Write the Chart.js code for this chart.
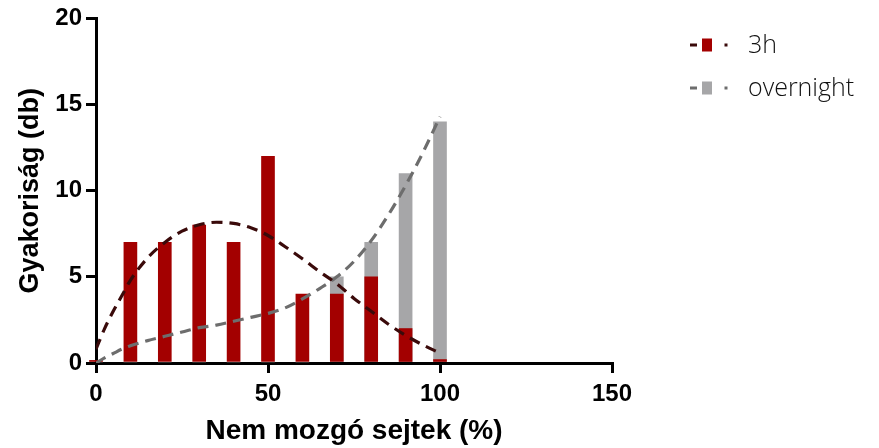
<!DOCTYPE html>
<html>
<head>
<meta charset="utf-8">
<script src="https://cdn.jsdelivr.net/npm/chart.js@4/dist/chart.umd.min.js"></script>
<style>
  html, body { margin: 0; padding: 0; background: #fff; }
  #wrap { width: 879px; height: 448px; }
</style>
</head>
<body>
<div id="wrap"><canvas id="c" width="879" height="448"></canvas></div>
<script>
// Histogram bins (% non-motile cells) and counts per bin
const binCenters = [0, 10, 20, 30, 40, 50, 60, 70, 80, 90, 100];
const counts3h = [0.15, 7, 7, 8, 7, 12, 4, 4, 5, 2, 0.2];
const countsOvernight = [0, 0, 0, 0, 0, 0, 0, 5, 7, 11, 14];

// Fitted distribution curves, sampled along the x axis
const fitX = [0, 2.5, 5, 7.5, 10, 15, 20, 25, 30, 35, 40, 45, 50, 55, 60, 65, 70, 75, 80, 85, 90, 95, 100];
const fit3h = [0.8, 2.0, 3.0, 3.9, 4.8, 6.1, 7.0, 7.65, 8.02, 8.17, 8.1, 7.85, 7.4, 6.75, 6.05, 5.3, 4.6, 3.75, 3.0, 2.25, 1.6, 1.05, 0.58];
const fitOvernight = [0, 0.3, 0.55, 0.8, 1.0, 1.3, 1.55, 1.8, 2.05, 2.2, 2.42, 2.65, 2.88, 3.2, 3.72, 4.32, 5.0, 5.9, 7.1, 8.6, 10.3, 12.2, 14.3];

// Axis ranges and tick steps
const xRange = [0, 150], xStep = 50;
const yRange = [0, 20], yStep = 5;

const RED = '#a30000';
const GRAY = '#a6a6a8';
const RED_LINE = '#3a0a0a';
const GRAY_LINE = '#6d6d6d';
const FONT = '"Liberation Sans", Arial, sans-serif';

const legendItems = [
  { label: '3h', bar: RED, line: RED_LINE },
  { label: 'overnight', bar: GRAY, line: GRAY_LINE }
];

const legendPlugin = {
  id: 'sideLegend',
  afterDraw(chart) {
    const ctx = chart.ctx;
    ctx.save();
    legendItems.forEach((it, i) => {
      const cy = 45 + i * 43;
      ctx.fillStyle = it.line;
      ctx.fillRect(690, cy - 1.5, 7, 3);
      ctx.fillStyle = it.bar;
      ctx.fillRect(702, cy - 6.5, 10, 13);
      ctx.fillStyle = it.line;
      ctx.fillRect(724.5, cy - 1.5, 3, 3);
      ctx.fillStyle = '#111';
      ctx.font = '300 25px "Open Sans", sans-serif';
      ctx.textBaseline = 'alphabetic';
      ctx.textAlign = 'left';
      ctx.fillText(it.label, 748, cy + 8);
    });
    ctx.restore();
  }
};

const axisCommon = {
  grid: { display: true, offset: false, drawOnChartArea: false, drawTicks: true, tickLength: 10, lineWidth: 3, color: '#000' },
  border: { display: true, width: 3, color: '#000' },
};

new Chart(document.getElementById('c'), {
  type: 'bar',
  data: {
    datasets: [
      {
        type: 'line',
        label: '3h fit',
        data: fitX.map((x, i) => ({ x, y: fit3h[i] })),
        borderColor: RED_LINE,
        borderWidth: 3.2,
        borderDash: [11, 7],
        pointRadius: 0,
        cubicInterpolationMode: 'monotone',
        fill: false,
        order: 0
      },
      {
        type: 'line',
        label: 'overnight fit',
        data: fitX.map((x, i) => ({ x, y: fitOvernight[i] })),
        borderColor: GRAY_LINE,
        borderWidth: 3.2,
        borderDash: [11, 7],
        pointRadius: 0,
        cubicInterpolationMode: 'monotone',
        fill: false,
        order: 0
      },
      {
        label: '3h',
        data: binCenters.map((x, i) => ({ x, y: counts3h[i] })),
        backgroundColor: RED,
        barThickness: 13,
        grouped: false,
        clip: false,
        order: 1
      },
      {
        label: 'overnight',
        data: binCenters.map((x, i) => ({ x, y: countsOvernight[i] })),
        backgroundColor: GRAY,
        barThickness: 13,
        grouped: false,
        order: 2
      }
    ]
  },
  options: {
    responsive: false,
    animation: false,
    layout: { padding: { top: 17, right: 267, left: 0, bottom: 0 } },
    plugins: { legend: { display: false }, tooltip: { enabled: false } },
    scales: {
      x: {
        type: 'linear',
        min: xRange[0], max: xRange[1],
        offset: false,
        afterFit(scale) { scale.height = 85; },
        ticks: { stepSize: xStep, autoSkip: false, color: '#000', font: { family: FONT, size: 24, weight: 'bold' }, padding: 7, maxRotation: 0 },
        title: { display: true, text: 'Nem mozgó sejtek (%)', color: '#000', font: { family: FONT, size: 28, weight: 'bold' }, padding: { top: 0, bottom: 0 } },
        ...axisCommon
      },
      y: {
        min: yRange[0], max: yRange[1],
        afterFit(scale) { scale.width = 96; },
        ticks: { stepSize: yStep, color: '#000', font: { family: FONT, size: 24, weight: 'bold' }, padding: 4 },
        title: { display: true, text: 'Gyakoriság (db)', color: '#000', font: { family: FONT, size: 27, weight: 'bold' }, padding: { top: 14, bottom: 0 } },
        ...axisCommon
      }
    }
  },
  plugins: [legendPlugin]
});
</script>
</body>
</html>
